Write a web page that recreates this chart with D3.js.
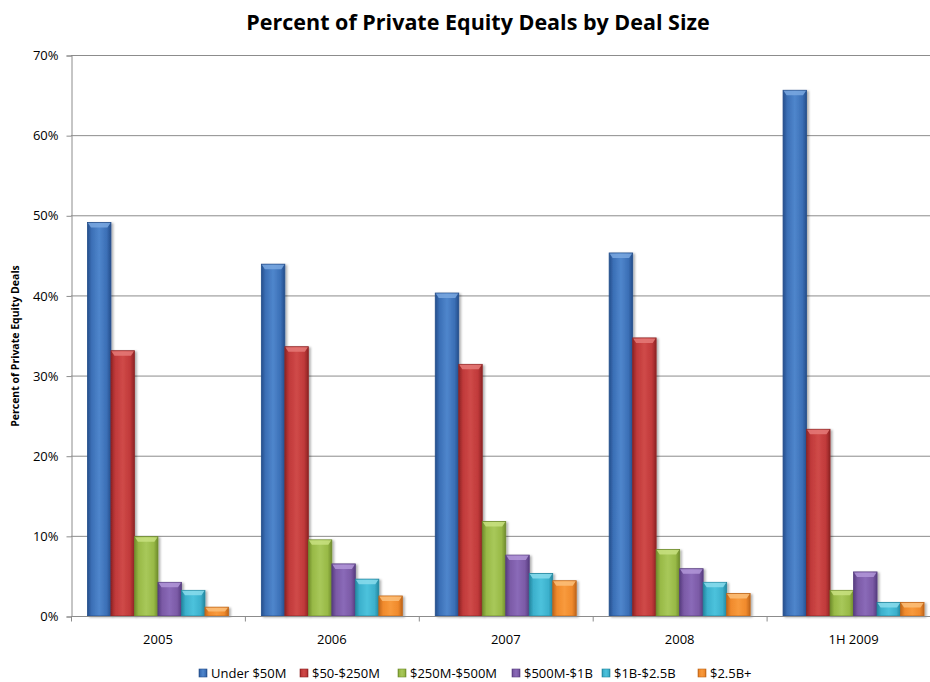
<!DOCTYPE html>
<html>
<head>
<meta charset="utf-8">
<script src="https://cdn.jsdelivr.net/npm/d3@7"></script>
<style>
  body { margin: 0; background: #fff; }
  svg { display: block; }
  text { font-family: "Open Sans", Lato, "Liberation Sans", sans-serif; fill: #000; }
</style>
</head>
<body>
<svg id="chart" width="930" height="682"></svg>
<script>
const categories = ["2005", "2006", "2007", "2008", "1H 2009"];
const seriesNames = ["Under $50M", "$50-$250M", "$250M-$500M", "$500M-$1B", "$1B-$2.5B", "$2.5B+"];
const under50M   = [49.1, 43.9, 40.3, 45.3, 65.6];
const m50to250   = [33.1, 33.6, 31.4, 34.7, 23.3];
const m250to500  = [9.9, 9.5, 11.8, 8.3, 3.2];
const m500to1B   = [4.2, 6.5, 7.6, 5.9, 5.5];
const b1to2_5    = [3.2, 4.6, 5.3, 4.2, 1.7];
const b2_5plus   = [1.1, 2.5, 4.4, 2.8, 1.7];
const yTicks = [0, 10, 20, 30, 40, 50, 60, 70];
const seriesValues = [under50M, m50to250, m250to500, m500to1B, b1to2_5, b2_5plus];
const colors = [
  {base: "#3b6fb6", dark: "#254f8c", light: "#4f86cc", top: "#7aa8e0"},
  {base: "#c0393a", dark: "#8e2424", light: "#cf4a48", top: "#e57a78"},
  {base: "#98b946", dark: "#6f8c2c", light: "#a8c85a", top: "#c8e080"},
  {base: "#7b5aa6", dark: "#573d80", light: "#8a6ab8", top: "#b196d8"},
  {base: "#3cb0cc", dark: "#22879f", light: "#4cc2dc", top: "#8adcec"},
  {base: "#f08a2c", dark: "#c0661a", light: "#f89a3c", top: "#fcc07a"}
];

(function() {
const svg = d3.select("#chart");
const pLeft = 71, pTop = 55, pBottom = 616;
const bandStep = 173.9;
const pRight = pLeft + bandStep * categories.length;

const y = d3.scaleLinear().domain([0, 70]).range([pBottom, pTop]);
const x0 = d3.scaleBand().domain(categories).range([pLeft, pRight]).padding(0);
const x1 = d3.scaleBand().domain(seriesNames).range([0, x0.bandwidth()]).paddingInner(0).paddingOuter(0.7);

const defs = svg.append("defs");
colors.forEach((c, i) => {
  const g = defs.append("linearGradient").attr("id", "g" + i).attr("x1", 0).attr("x2", 1).attr("y1", 0).attr("y2", 0);
  g.append("stop").attr("offset", "0%").attr("stop-color", c.dark);
  g.append("stop").attr("offset", "18%").attr("stop-color", c.base);
  g.append("stop").attr("offset", "50%").attr("stop-color", c.light);
  g.append("stop").attr("offset", "82%").attr("stop-color", c.base);
  g.append("stop").attr("offset", "100%").attr("stop-color", c.dark);
});
const f = defs.append("filter").attr("id", "shadow").attr("x", "-20%").attr("y", "-5%").attr("width", "150%").attr("height", "120%");
f.append("feDropShadow").attr("dx", 2).attr("dy", 1).attr("stdDeviation", 1.3).attr("flood-color", "#000").attr("flood-opacity", 0.3);

// Title
svg.append("text").attr("x", 478).attr("y", 30).attr("text-anchor", "middle")
  .attr("font-size", 21.5).attr("font-weight", "bold")
  .text("Percent of Private Equity Deals by Deal Size");

// Gridlines
svg.append("g").selectAll("line").data(yTicks.filter(d => d > 0)).join("line")
  .attr("x1", pLeft).attr("x2", 930).attr("y1", d => y(d) + 0.5).attr("y2", d => y(d) + 0.5)
  .attr("stroke", "#8c8c8c").attr("stroke-width", 1);

// Y axis
const yAxis = d3.axisLeft(y).tickValues(yTicks).tickFormat(d => d + "%").tickSize(5).tickPadding(8);
const ya = svg.append("g").attr("transform", `translate(${pLeft + 0.5},0.5)`).call(yAxis);
ya.select(".domain").attr("stroke", "#8c8c8c");
ya.selectAll(".tick line").attr("stroke", "#8c8c8c");
ya.selectAll(".tick text").attr("font-size", 13).attr("font-family", "'Open Sans', Lato, sans-serif").attr("fill", "#000");

// Y title
svg.append("text").attr("transform", `translate(19,346) rotate(-90)`)
  .attr("text-anchor", "middle").attr("font-size", 10.5).attr("font-weight", "bold")
  .text("Percent of Private Equity Deals");

// Bars
const groups = svg.append("g").selectAll("g").data(categories).join("g")
  .attr("transform", d => `translate(${x0(d)},0)`);
groups.each(function(cat, ci) {
  const g = d3.select(this);
  seriesNames.forEach((s, si) => {
    const v = seriesValues[si][ci];
    const bx = x1(s), bw = x1.bandwidth(), by = y(v), bh = pBottom - y(v);
    const bar = g.append("g").attr("filter", "url(#shadow)");
    bar.append("rect").attr("x", bx).attr("y", by).attr("width", bw).attr("height", bh)
      .attr("fill", `url(#g${si})`).attr("stroke", colors[si].dark).attr("stroke-width", 0.8);
    const bev = Math.min(5, bh / 2);
    bar.append("polygon")
      .attr("points", [[bx + 0.5, by + 0.5], [bx + bw - 0.5, by + 0.5], [bx + bw - 3.5, by + bev], [bx + 3.5, by + bev]].map(p => p.join(",")).join(" "))
      .attr("fill", colors[si].top).attr("opacity", 0.85);
  });
});

// X axis
const xa = svg.append("g").attr("transform", `translate(0,${pBottom + 0.5})`);
xa.append("line").attr("x1", pLeft).attr("x2", 930).attr("stroke", "#8c8c8c");
xa.selectAll("line.t").data(d3.range(categories.length + 1)).join("line").attr("class", "t")
  .attr("x1", i => (i < categories.length ? x0(categories[i]) : pRight) + 0.5)
  .attr("x2", i => (i < categories.length ? x0(categories[i]) : pRight) + 0.5)
  .attr("y1", 0).attr("y2", 5).attr("stroke", "#8c8c8c");
xa.selectAll("text").data(categories).join("text")
  .attr("x", d => x0(d) + x0.bandwidth() / 2).attr("y", 27)
  .attr("text-anchor", "middle").attr("font-size", 13).text(d => d);

// Legend
const legendX = [199, 300, 398, 512, 602, 698];
const lg = svg.append("g").selectAll("g").data(seriesNames).join("g")
  .attr("transform", (d, i) => `translate(${legendX[i]},669)`);
lg.append("rect").attr("width", 8).attr("height", 8).attr("fill", (d, i) => `url(#g${i})`)
  .attr("stroke", (d, i) => colors[i].dark).attr("stroke-width", 0.6);
lg.append("text").attr("x", 12).attr("y", 9).attr("font-size", 13).text(d => d);
})();
</script>
</body>
</html>
